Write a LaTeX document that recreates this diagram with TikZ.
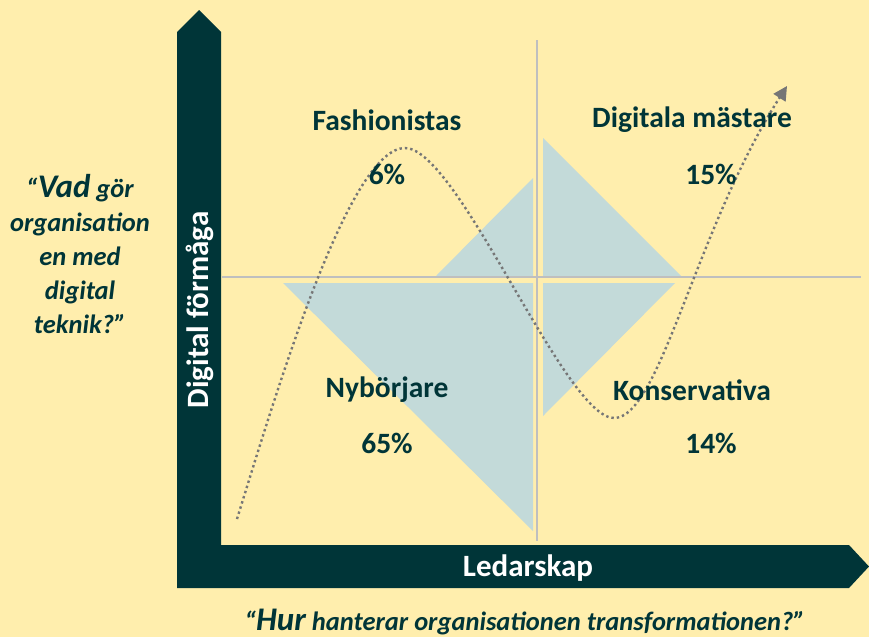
\documentclass[tikz,border=0pt]{standalone}
\usepackage{fontspec}
\setmainfont{Carlito}
\usetikzlibrary{arrows.meta}
\definecolor{bg}{HTML}{FFEEAD}
\definecolor{dark}{HTML}{003538}
\definecolor{tri}{HTML}{C3DAD9}
\definecolor{grid}{HTML}{BFBFBF}
\definecolor{curve}{HTML}{767676}
\tikzset{
  quad/.style={text=dark, font=\bfseries\fontsize{29.5}{33}\selectfont, inner sep=0pt},
  axislabel/.style={text=white, font=\bfseries\fontsize{31}{35}\selectfont, inner sep=0pt},
  question/.style={text=dark, font=\bfseries\itshape\fontsize{26.5}{34}\selectfont, inner sep=0pt, align=center},
  gridline/.style={draw=grid, line width=1.6pt},
  trifill/.style={fill=tri, draw=none},
  dotcurve/.style={draw=curve, line width=2.4pt, dash pattern=on 2.4pt off 3pt, -{Triangle[length=14pt,width=14pt,fill=curve]}}
}
\begin{document}
\begin{tikzpicture}[x=1pt,y=-1pt]
\fill[bg] (0,0) rectangle (869,637);
\useasboundingbox (0,0) rectangle (869,637);
% triangles
\fill[trifill] (543,138) -- (543,276) -- (681,276) -- cycle;
\fill[trifill] (533,178) -- (533,276) -- (436,276) -- cycle;
\fill[trifill] (543,283) -- (675,283) -- (543,416) -- cycle;
\fill[trifill] (533,283) -- (283,283) -- (533,531) -- cycle;
% grid lines
\coordinate (vt) at (537,40);
\coordinate (vb) at (537,541);
\coordinate (hl) at (222,277);
\coordinate (hr) at (861,277);
\draw[gridline] (vt) -- (vb);
\draw[gridline] (hl) -- (hr);
% axes
\fill[dark] (177,588) -- (177,32) -- (199,10) -- (221,32) -- (221,545) -- (849,545) -- (869,566.5) -- (849,588) -- cycle;
% curve
\coordinate (c0) at (237,519);
\coordinate (c1) at (405,148);
\coordinate (c2) at (614,418);
\coordinate (c3) at (787,86);
\draw[dotcurve] (c0) .. controls (280,380) and (350,148) .. (c1)
  .. controls (458,148) and (565,418) .. (c2)
  .. controls (660,418) and (695,230) .. (c3);
% quadrant labels
\node[quad] (fash) at (387,120) {Fashionistas};
\node[quad] (fashp) at (387,174) {6\%};
\node[quad] (dig) at (692,120) {Digitala mästare};
\node[quad] (digp) at (711,174) {15\%};
\node[quad] (nyb) at (387,390) {Nybörjare};
\node[quad] (nybp) at (387,443) {65\%};
\node[quad] (kons) at (692,390) {Konservativa};
\node[quad] (konsp) at (711,443) {14\%};
% axis labels
\node[axislabel, rotate=90] (ylab) at (200,310) {Digital förmåga};
\node[axislabel] (xlab) at (528,568) {Ledarskap};
% questions
\node[question] (q1) at (80,254) {“{\fontsize{33}{34}\selectfont Vad} gör\\organisation\\en med\\digital\\teknik?”};
\node[question] (q2) at (525,622) {“{\fontsize{33}{34}\selectfont Hur} hanterar organisationen transformationen?”};
\end{tikzpicture}
\end{document}
